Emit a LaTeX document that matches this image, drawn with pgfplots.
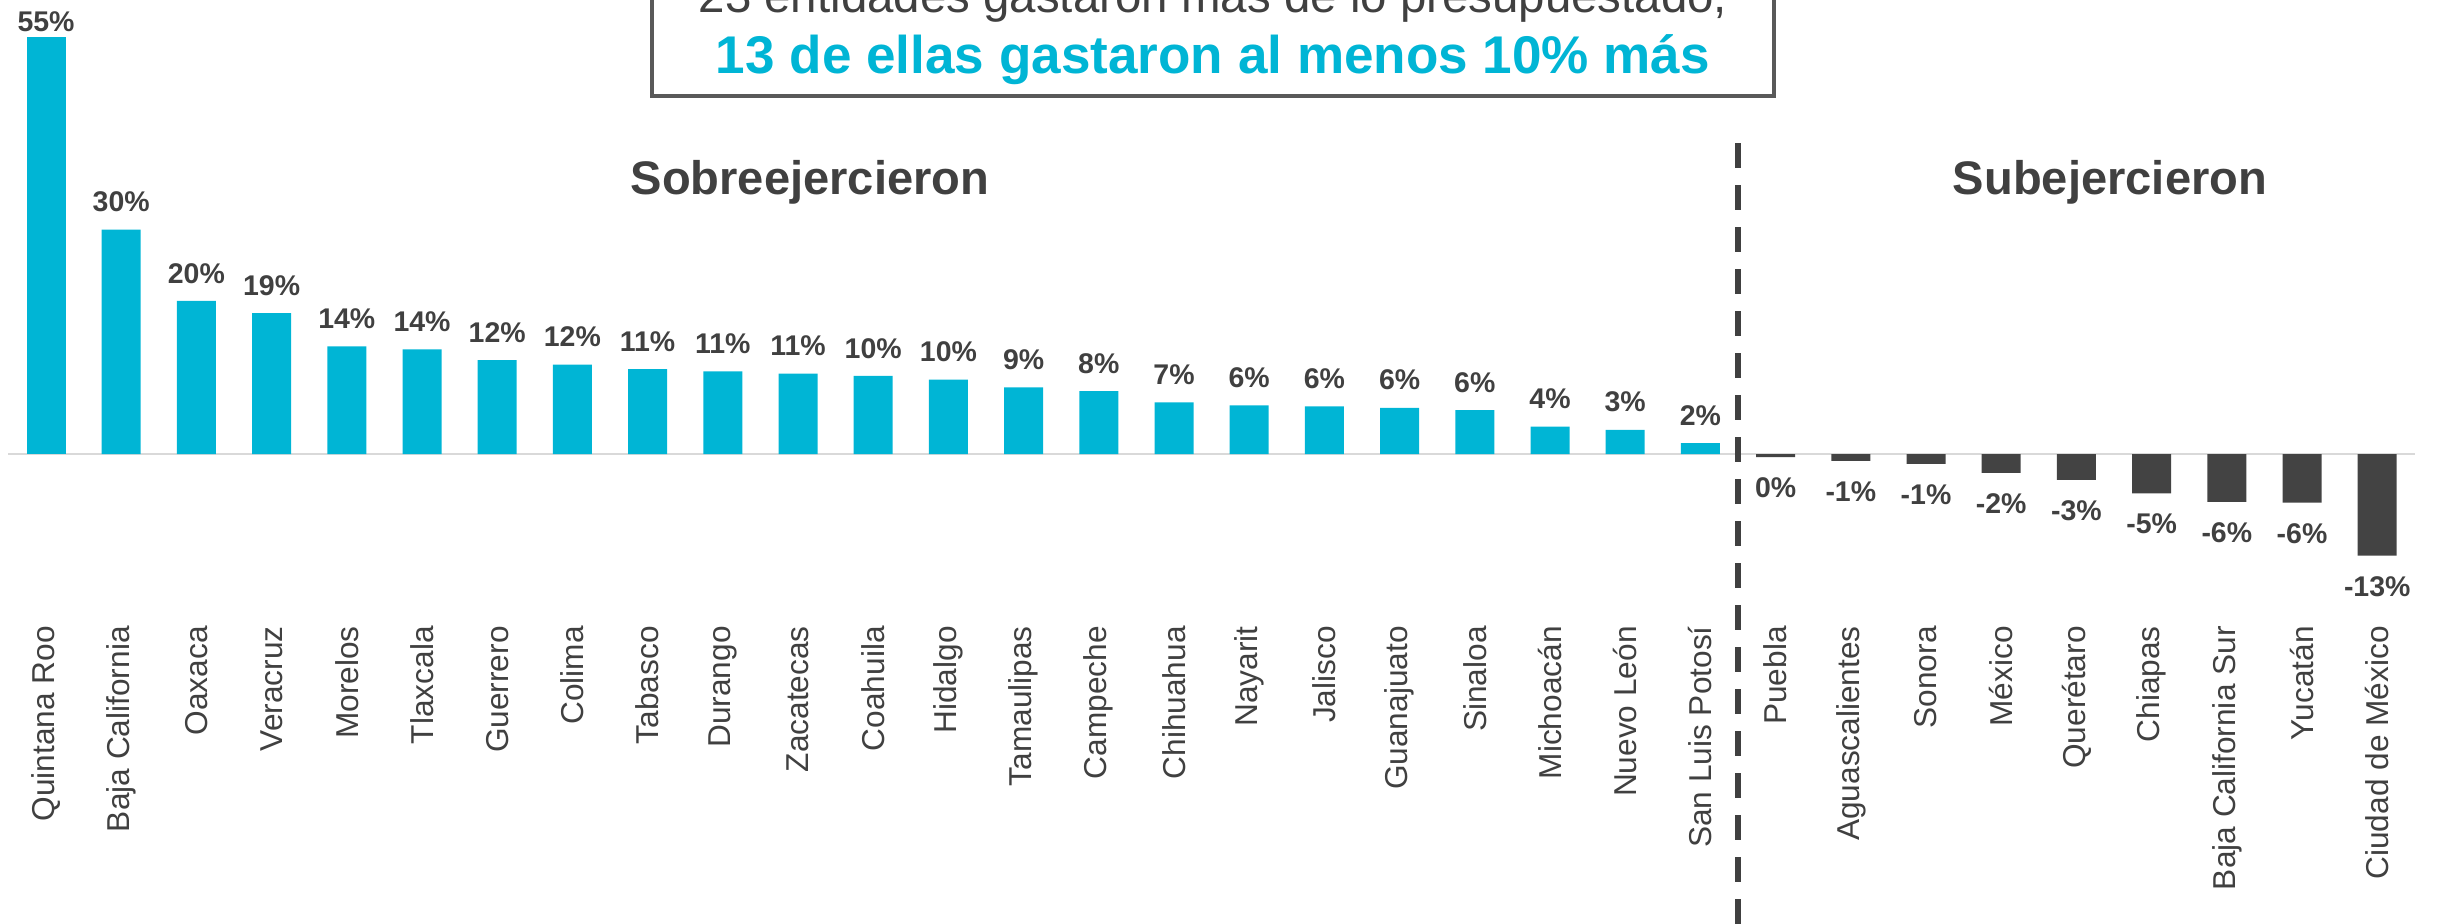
\documentclass[border=0pt]{standalone}
\usepackage{pgfplots}
\pgfplotsset{compat=1.18}
\usepackage{fontspec}
\setmainfont{Liberation Sans}
\definecolor{cyanbar}{RGB}{0,181,213}
\definecolor{darkbar}{RGB}{67,67,67}
\definecolor{txt}{RGB}{64,64,64}
\definecolor{zerogray}{RGB}{217,217,217}
\definecolor{boxgray}{RGB}{89,89,89}
\begin{document}
\begin{tikzpicture}
\useasboundingbox (0,0) rectangle (24.40,9.23);
\clip (0,0) rectangle (24.40,9.23);
% title box
\draw[boxgray, line width=0.035cm, fill=white] (6.52,8.27) rectangle (17.74,10.5);
\node[anchor=base, text=txt, font=\fontsize{13.5}{15}\selectfont, inner sep=0pt] at (12.13,9.10) {23 entidades gastaron más de lo presupuestado,};
\node[anchor=base, text=cyanbar, font=\fontsize{15.1}{17}\selectfont\bfseries, inner sep=0pt] at (12.13,8.49) {13 de ellas gastaron al menos 10\% más};
\begin{axis}[
  at={(0.084cm,3.174cm)}, anchor=south west,
  scale only axis, width=24.064cm, height=6.064cm,
  xmin=-0.5, xmax=31.5, ymin=-20, ymax=60,
  clip=false,
  axis line style={draw=none},
  major tick length=0pt,
  ytick=\empty,
  xtick={0,...,31},
  xticklabels={Quintana Roo, Baja California, Oaxaca, Veracruz, Morelos, Tlaxcala, Guerrero, Colima, Tabasco, Durango, Zacatecas, Coahuila, Hidalgo, Tamaulipas, Campeche, Chihuahua, Nayarit, Jalisco, Guanajuato, Sinaloa, Michoacán, Nuevo León, San Luis Potosí, Puebla, Aguascalientes, Sonora, México, Querétaro, Chiapas, Baja California Sur, Yucatán, Ciudad de México},
  xticklabel style={rotate=90, anchor=east, inner sep=0pt, text=txt, font=\fontsize{9}{10}\selectfont},
  xticklabel shift=0.2cm,
  ybar, bar width=0.39cm,
  nodes near coords,
  point meta=explicit symbolic,
]
\draw[zerogray, line width=0.02cm] (axis cs:-0.5,0) -- (axis cs:31.5,0);
\addplot[fill=cyanbar, draw=none, bar shift=0pt,
  nodes near coords style={anchor=south, inner sep=1.4pt, text=txt, font=\fontsize{8.1}{9}\selectfont\bfseries}]
  coordinates {
  (0,55.0) [55\%]
  };
\addplot[fill=cyanbar, draw=none, bar shift=0pt,
  nodes near coords style={anchor=south, inner sep=4.8pt, text=txt, font=\fontsize{8.1}{9}\selectfont\bfseries}]
  coordinates {
  (1,29.6) [30\%]
  (2,20.2) [20\%]
  (3,18.6) [19\%]
  (4,14.2) [14\%]
  (5,13.8) [14\%]
  (6,12.4) [12\%]
  (7,11.8) [12\%]
  (8,11.2) [11\%]
  (9,10.9) [11\%]
  (10,10.6) [11\%]
  (11,10.3) [10\%]
  (12,9.8) [10\%]
  (13,8.8) [9\%]
  (14,8.3) [8\%]
  (15,6.8) [7\%]
  (16,6.4) [6\%]
  (17,6.3) [6\%]
  (18,6.1) [6\%]
  (19,5.8) [6\%]
  (20,3.6) [4\%]
  (21,3.2) [3\%]
  (22,1.45) [2\%]
  };
\addplot[fill=darkbar, draw=none, bar shift=0pt,
  nodes near coords style={anchor=north, inner sep=1.7pt, yshift=-4pt, text=txt, font=\fontsize{8.1}{9}\selectfont\bfseries}]
  coordinates {
  (23,-0.4) [0\%]
  (24,-0.9) [-1\%]
  (25,-1.3) [-1\%]
  (26,-2.5) [-2\%]
  (27,-3.4) [-3\%]
  (28,-5.2) [-5\%]
  (29,-6.3) [-6\%]
  (30,-6.4) [-6\%]
  (31,-13.4) [-13\%]
  };
\draw[txt, line width=0.06cm, dash pattern=on 0.25cm off 0.17cm] (axis cs:22.5,41) -- (axis cs:22.5,-66);
\end{axis}
\node[anchor=base, text=txt, font=\fontsize{13.4}{15}\selectfont\bfseries, inner sep=0pt] at (8.10,7.28) {Sobreejercieron};
\node[anchor=base, text=txt, font=\fontsize{13.4}{15}\selectfont\bfseries, inner sep=0pt] at (21.10,7.28) {Subejercieron};
\end{tikzpicture}
\end{document}
